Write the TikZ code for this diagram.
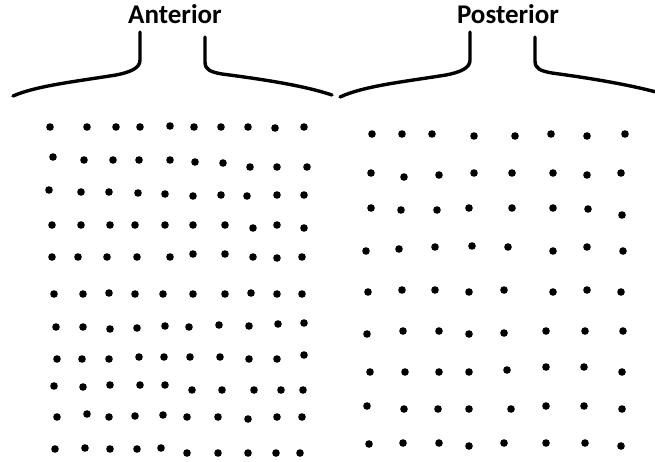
\documentclass[tikz,border=0pt]{standalone}
\usepackage{fontspec}
\setmainfont{Carlito}
\usetikzlibrary{positioning}

\begin{document}
\begin{tikzpicture}[
    x=1pt, y=-1pt,
    side/.style={
        font=\bfseries\fontsize{27}{30}\selectfont, anchor=base, inner sep=0pt
    },
    brace/.style={
        line width=3.4pt, line cap=round, line join=round
    },
    dot/.style={
        circle, fill=black, inner sep=0pt, minimum size=7.6pt
    }
]

\useasboundingbox (0,0) rectangle (655,461);

\node[side] (Ant) at (175,23) {Anterior};
\node[side] (Post) at (508,23) {Posterior};

\draw[brace] (140,32) -- (140,60) .. controls (140,68) and (131,72) .. (116,75)
    .. controls (72,82) and (36,86) .. (13,96);
\draw[brace] (205,37) -- (205,62) .. controls (205,70) and (211,72) .. (222,74)
    .. controls (268,80) and (305,86) .. (332,95);

\draw[brace] (470,32) -- (470,60) .. controls (470,68) and (461,72) .. (446,75)
    .. controls (402,82) and (364,86) .. (340,97);
\draw[brace] (535,37) -- (535,61) .. controls (535,69) and (541,71) .. (552,73)
    .. controls (596,79) and (630,85) .. (660,93);

\foreach \row [count=\r] in {
    {50/127,87/127,116/127,140/127,170/126,194/127,221/127,248/127,275/128,304/127},
    {53/157,84/160,113/160,139/160,170/160,195/162,223/163,250/167,277/167,307/167},
    {49/190,81/192,109/192,138/193,165/194,193/196,221/195,247/196,277/195,304/195},
    {52/225,81/225,110/225,135/225,165/225,193/225,225/225,253/228,277/225,304/228},
    {52/257,78/257,107/257,137/257,170/257,193/254,225/254,253/257,277/258,302/257},
    {54/294,83/294,109/293,135/294,163/294,193/294,225/294,251/293,277/294,302/294},
    {56/327,83/327,110/329,137/328,165/326,189/327,219/325,249/326,278/324,304/323},
    {57/359,82/359,109/359,139/357,164/357,190/357,220/357,249/359,277/359,304/355},
    {54/386,83/387,110/385,140/385,165/385,192/390,222/390,254/390,281/390,303/390},
    {57/417,87/414,109/417,135/416,163/415,187/417,218/417,248/419,277/417,302/417},
    {55/449,85/448,110/449,137/449,161/448,187/453,218/453,248/453,276/453,300/453}}
    \foreach \x/\y [count=\c] in \row
        \node[dot] (ant-\r-\c) at (\x,\y) {};

\foreach \row [count=\r] in {
    {372/134,402/134,432/134,474/136,515/136,551/134,587/136,625/134},
    {371/173,404/177,439/175,474/173,512/173,553/173,587/175,621/173},
    {371/208,401/210,437/210,469/208,512/208,553/208,588/209,622/215},
    {366/251,399/249,435/247,472/246,508/247,553/251,587/247,623/251},
    {368/292,402/290,435/290,469/292,504/290,553/292,587/290,621/292},
    {367/334,403/331,439/331,469/334,504/333,546/331,585/331,623/331},
    {370/372,405/372,439/372,469/372,507/370,546/367,584/367,622/372},
    {367/406,404/409,438/409,469/409,511/409,546/406,584/406,622/409},
    {369/444,403/443,439/443,469/446,504/443,546/443,585/443,621/446}}
    \foreach \x/\y [count=\c] in \row
        \node[dot] (post-\r-\c) at (\x,\y) {};

\end{tikzpicture}
\end{document}
